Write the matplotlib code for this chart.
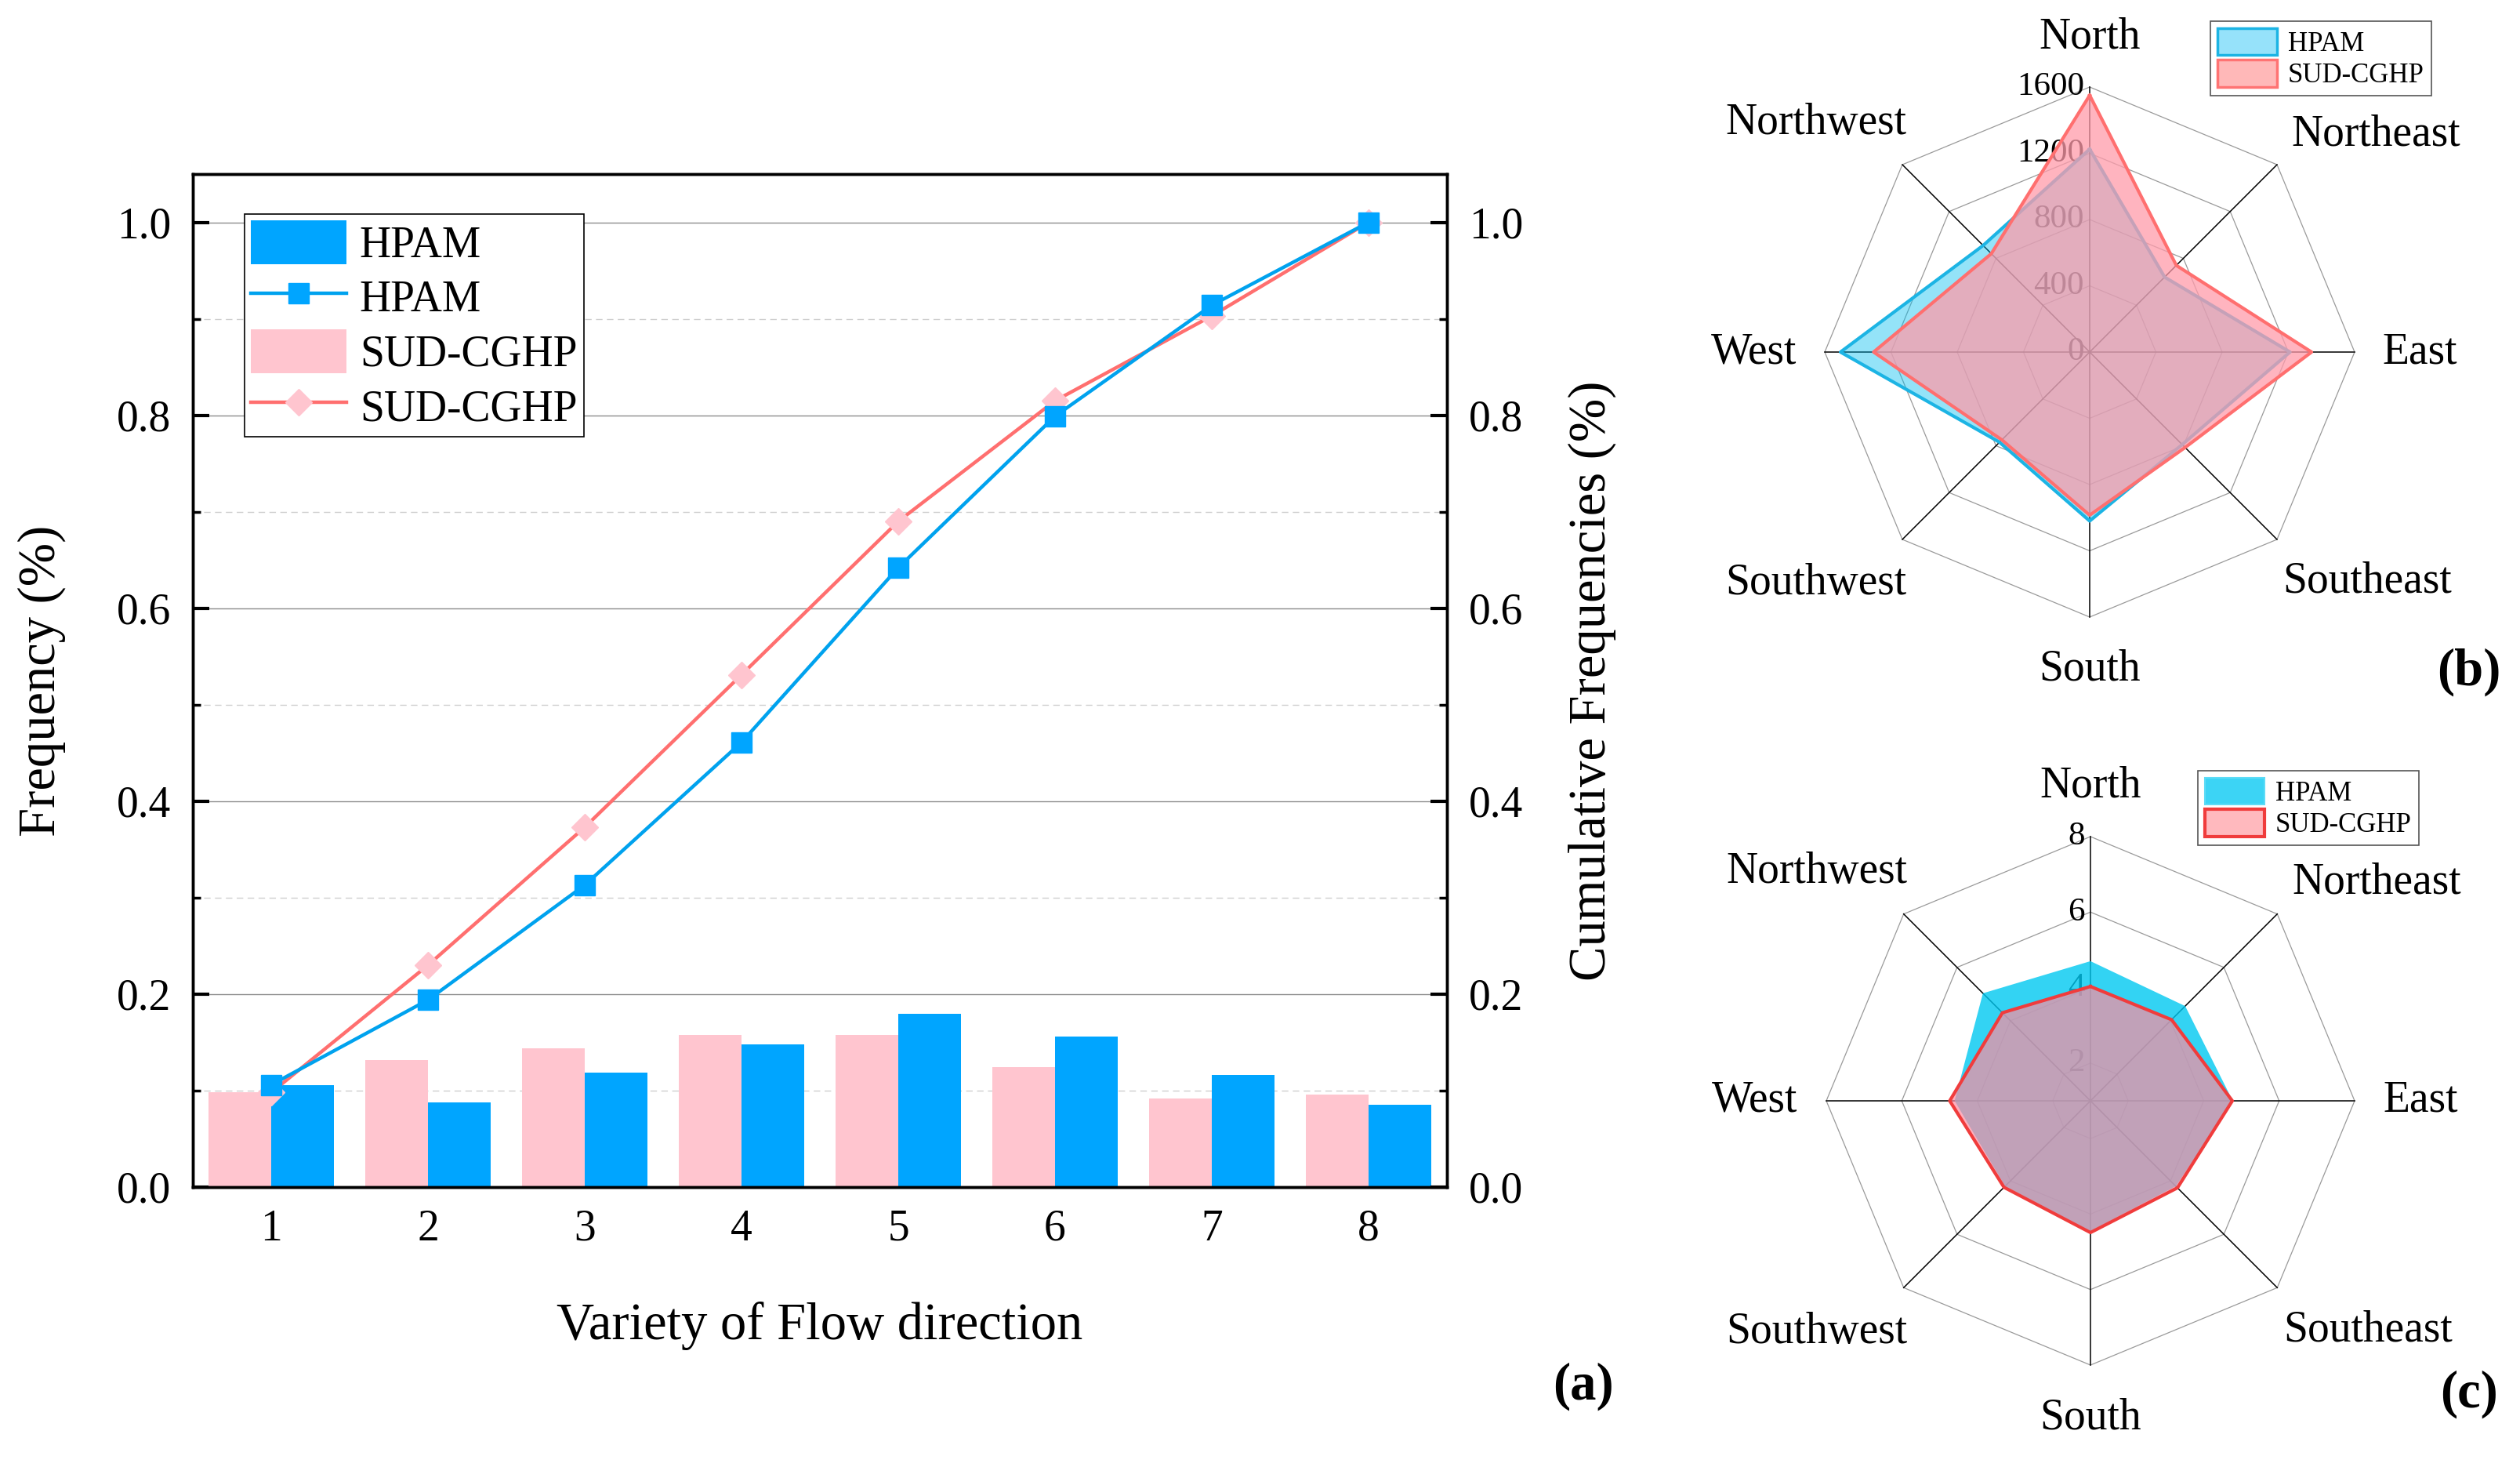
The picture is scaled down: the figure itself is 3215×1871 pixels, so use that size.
import numpy as np
import matplotlib
matplotlib.use('Agg')
from matplotlib import pyplot as plt
from matplotlib.patches import Patch
from matplotlib.ticker import MultipleLocator, FormatStrFormatter

plt.rcParams['font.family'] = ['Liberation Serif', 'DejaVu Serif']

# panel (a): frequency of flow direction variety
flow_variety = [1, 2, 3, 4, 5, 6, 7, 8]
freq_hpam = [0.106, 0.088, 0.119, 0.148, 0.180, 0.156, 0.116, 0.085]
freq_sud = [0.098, 0.132, 0.144, 0.158, 0.158, 0.124, 0.092, 0.096]
cum_hpam = [0.106, 0.194, 0.313, 0.461, 0.642, 0.799, 0.914, 1.0]
cum_sud = [0.098, 0.230, 0.373, 0.531, 0.690, 0.815, 0.903, 1.0]

# panels (b) and (c): radar charts by direction
directions = ['North', 'Northeast', 'East', 'Southeast',
              'South', 'Southwest', 'West', 'Northwest']
count_hpam = [1225, 640, 1210, 790, 1020, 770, 1505, 910]
count_sud = [1550, 740, 1340, 815, 985, 750, 1305, 840]
count_ticks = [0, 400, 800, 1200, 1600]
mean_hpam = [4.70, 4.55, 4.77, 4.20, 4.45, 4.20, 4.60, 5.03]
mean_sud = [4.03, 4.04, 4.76, 4.26, 4.49, 4.24, 4.73, 4.30]
mean_ticks = [2, 4, 6, 8]

W, H = 3216, 1871
fig = plt.figure(figsize=(W / 100, H / 100), dpi=100)

# ---------------- (a)
ax = fig.add_axes([246 / W, 1 - 1514 / H, 1600 / W, 1292 / H])
x = np.array(flow_variety)
b_sud = ax.bar(x - 0.2, freq_sud, 0.4, color='#ffc5cf', label='SUD-CGHP', zorder=2)
b_hp = ax.bar(x + 0.2, freq_hpam, 0.4, color='#00a5ff', label='HPAM', zorder=2)
l_sud, = ax.plot(x, cum_sud, '-', color='#ff6f6f', lw=3.2, marker='D', ms=17.5,
                 mfc='#ffc5cf', mec='#ffc5cf', zorder=3, label='SUD-CGHP')
l_hp, = ax.plot(x, cum_hpam, '-', color='#00a2ee', lw=3.2, marker='s', ms=19,
                mfc='#00a5ff', mec='#00a5ff', zorder=4, label='HPAM')

ax.set_xlim(0.5, 8.5)
ax.set_ylim(0, 1.05)
ax.set_xticks(flow_variety)
ax.yaxis.set_major_locator(MultipleLocator(0.2))
ax.yaxis.set_minor_locator(MultipleLocator(0.1))
ax.yaxis.set_major_formatter(FormatStrFormatter('%.1f'))
ax.set_axisbelow(True)
ax.grid(axis='y', which='major', color='#8c8c8c', lw=1.0)
ax.grid(axis='y', which='minor', color='#cfcfcf', lw=1.0, ls=(0, (6, 4)))
ax.tick_params(axis='y', which='major', direction='in', length=15, width=3,
               labelsize=40, pad=20, right=False)
ax.tick_params(axis='y', which='minor', direction='in', length=7, width=2.5, right=False)
ax.tick_params(axis='x', direction='in', length=15, width=3, labelsize=40, pad=20, top=False)
for s in ax.spines.values():
    s.set_linewidth(2.5)
ax.set_ylabel('Frequency (%)', fontsize=48)
ax.yaxis.set_label_coords(-0.101, 0.5)
ax.set_xlabel('Variety of Flow direction', fontsize=48)
ax.xaxis.set_label_coords(0.5, -0.113)

ax2 = ax.twinx()
ax2.set_ylim(0, 1.05)
ax2.yaxis.set_major_locator(MultipleLocator(0.2))
ax2.yaxis.set_minor_locator(MultipleLocator(0.1))
ax2.yaxis.set_major_formatter(FormatStrFormatter('%.1f'))
ax2.tick_params(axis='y', which='major', direction='in', length=15, width=3,
                labelsize=40, pad=20)
ax2.tick_params(axis='y', which='minor', direction='in', length=7, width=2.5)
for s in ax2.spines.values():
    s.set_linewidth(2.5)
ax2.set_ylabel('Cumulative Frequencies (%)', fontsize=48)
ax2.yaxis.set_label_coords(1.0963, 0.5)

leg = ax2.legend([b_hp, l_hp, b_sud, l_sud], ['HPAM', 'HPAM', 'SUD-CGHP', 'SUD-CGHP'],
                 loc='upper left', bbox_to_anchor=(0.041, 0.9605), fontsize=40,
                 frameon=True, fancybox=False, edgecolor='black', framealpha=1,
                 handlelength=2.2, handleheight=1.15, labelspacing=0.2,
                 borderpad=0.15, handletextpad=0.3, borderaxespad=0, numpoints=1)
leg.get_frame().set_linewidth(1.2)

fig.text(2020 / W, 1 - 1768 / H, '(a)', fontsize=48, fontweight='bold',
         ha='center', va='center')

# ---------------- radar helper
label_off = {'North': (0, -402), 'Northeast': (365, -278), 'East': (421, 0),
             'Southeast': (354, 293), 'South': (0, 405), 'Southwest': (-349, 295),
             'West': (-428, 0), 'Northwest': (-349, -292)}


def radar(cx, cy, R, hpam, sud, ticks, rmin, rmax, style):
    axr = fig.add_axes([(cx - R) / W, 1 - (cy + R) / H, 2 * R / W, 2 * R / H],
                       projection='polar')
    axr.set_theta_zero_location('N')
    axr.set_theta_direction(-1)
    axr.set_ylim(rmin, rmax)
    axr.grid(False)
    axr.set_xticks([])
    axr.set_yticks([])
    axr.spines['polar'].set_visible(False)
    axr.patch.set_visible(False)
    ang = np.linspace(0, 2 * np.pi, len(directions) + 1)
    for t in ticks:
        if t > rmin:
            axr.plot(ang, [t] * len(ang), color='#9a9a9a', lw=0.9, zorder=1, clip_on=False)
        axr.annotate(str(t), xy=(0, t), xytext=(-5, 0), textcoords='offset points',
                     ha='right', va='center', fontsize=31, zorder=1.5)
    for a in ang[:-1]:
        axr.plot([a, a], [rmin, rmax], color='black', lw=1.1, zorder=1, clip_on=False)
    hp = list(hpam) + [hpam[0]]
    sd = list(sud) + [sud[0]]
    axr.fill(ang, hp, facecolor=style['hp_face'], alpha=style['hp_alpha'],
             edgecolor='none', zorder=2)
    if style['hp_edge'] is not None:
        axr.plot(ang, hp, color=style['hp_edge'], lw=3, zorder=2.1)
    axr.fill(ang, sd, facecolor=style['sd_face'], alpha=style['sd_alpha'],
             edgecolor='none', zorder=3)
    axr.plot(ang, sd, color=style['sd_edge'], lw=style['sd_lw'], zorder=4)
    for name in directions:
        dx, dy = label_off[name]
        axr.text(0.5 + dx / (2 * R), 0.5 - dy / (2 * R), name, transform=axr.transAxes,
                 fontsize=40, ha='center', va='center')
    return axr


style_b = dict(hp_face='#00bef0', hp_alpha=0.42, hp_edge='#1cb4e4',
               sd_face='#ff9baa', sd_alpha=0.75, sd_edge='#ff6f6f', sd_lw=3)
radar(2666, 449, 338, count_hpam, count_sud, count_ticks, 0, 1600, style_b)
leg_b = fig.legend(handles=[Patch(facecolor='#96e2fa', edgecolor='#1cb4e4', lw=2.5),
                            Patch(facecolor='#ffb8b8', edgecolor='#ff7373', lw=2.5)],
                   labels=['HPAM', 'SUD-CGHP'], loc='upper left',
                   bbox_to_anchor=(2820 / W, 1 - 27 / H), fontsize=25, frameon=True,
                   fancybox=False, edgecolor='#555555', framealpha=1,
                   handlelength=2.2, handleheight=1.15, labelspacing=0.1,
                   borderpad=0.25, handletextpad=0.4, borderaxespad=0)
leg_b.get_frame().set_linewidth(1.2)

style_c = dict(hp_face='#00c8f0', hp_alpha=0.8, hp_edge=None,
               sd_face='#ff8ca0', sd_alpha=0.7, sd_edge='#f03c3c', sd_lw=3)
radar(2667, 1404, 337, mean_hpam, mean_sud, mean_ticks, 1, 8, style_c)
leg_c = fig.legend(handles=[Patch(facecolor='#3cd4f5', edgecolor='#5ddcf7', lw=1.5),
                            Patch(facecolor='#ffb9be', edgecolor='#f03c3c', lw=3)],
                   labels=['HPAM', 'SUD-CGHP'], loc='upper left',
                   bbox_to_anchor=(2804 / W, 1 - 983 / H), fontsize=25, frameon=True,
                   fancybox=False, edgecolor='#555555', framealpha=1,
                   handlelength=2.2, handleheight=1.15, labelspacing=0.1,
                   borderpad=0.25, handletextpad=0.4, borderaxespad=0)
leg_c.get_frame().set_linewidth(1.2)

fig.text(3150 / W, 1 - 857 / H, '(b)', fontsize=48, fontweight='bold',
         ha='center', va='center')
fig.text(3150 / W, 1 - 1778 / H, '(c)', fontsize=48, fontweight='bold',
         ha='center', va='center')

fig.savefig('out.png', dpi=100)
